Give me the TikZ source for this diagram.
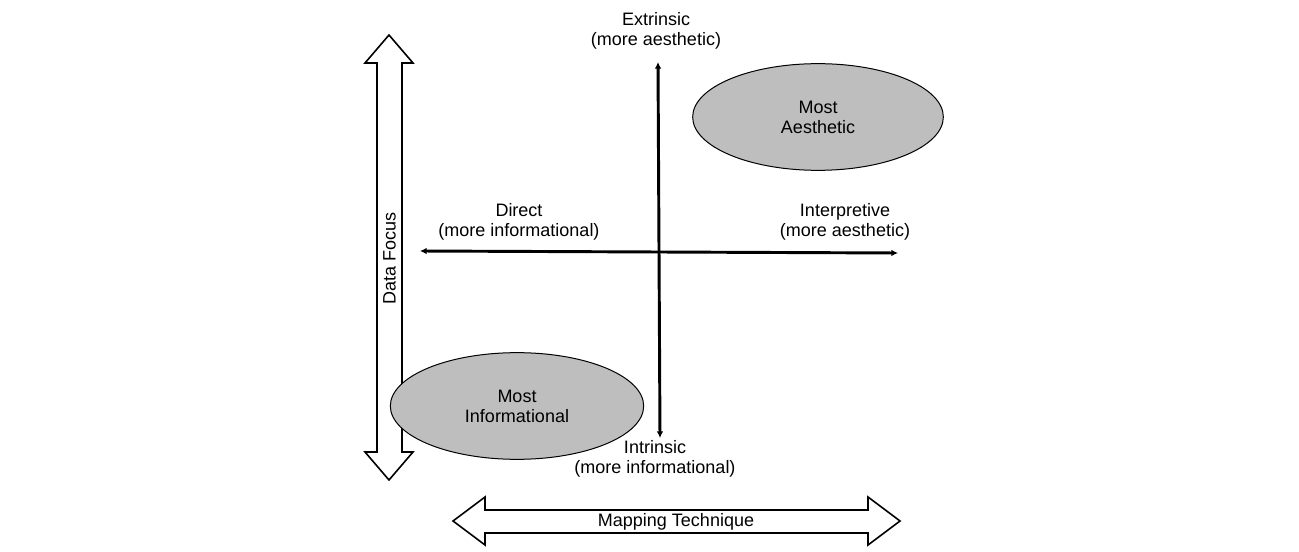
\documentclass[tikz,border=0pt]{standalone}
\usepackage{fontspec}
\setmainfont{Liberation Sans}
\usetikzlibrary{arrows.meta,shapes.geometric}
\begin{document}
\tikzset{every picture/.style={line width=0.75pt},
	lbl/.style={font=\fontsize{13.5}{15}\selectfont, align=center},
	quad/.style={ellipse, draw=black, fill={rgb, 255:red, 190; green, 190; blue, 190}, line width=0.75, minimum width=141, minimum height=60, inner sep=0, font=\fontsize{13.5}{15}\selectfont, align=center},
	axis/.style={line width=2.2, {Latex[length=5,width=5]}-{Latex[length=5,width=5]}}}

\begin{tikzpicture}[x=0.75pt,y=0.75pt,yscale=-1,xscale=1]
	\useasboundingbox (0,0) rectangle (1299,552);

	%Double arrow: Data Focus
	\draw [line width=1.2, fill=white] (389,35) -- (413,63) -- (402,63) -- (402,452) -- (413,452) -- (389,480) -- (365,452) -- (377,452) -- (377,63) -- (365,63) -- cycle ;
	\draw (389.5,258) node [lbl, rotate=90] {Data Focus};
	%Double arrow: Mapping Technique
	\draw [line width=1.2, fill=white] (453,521) -- (485,497) -- (485,510) -- (868,510) -- (868,497) -- (900,521) -- (868,545) -- (868,533) -- (485,533) -- (485,545) -- cycle ;
	\draw (676,522) node [lbl] {Mapping Technique};

	% Axis end points
	\coordinate (top) at (658,62);
	\coordinate (bot) at (660,438);
	\coordinate (lft) at (420,251);
	\coordinate (rgt) at (898,253);
	\draw [axis] (bot) -- (top) ;
	\draw [axis] (lft) -- (rgt) ;

	% Text Node
	\node [lbl] (ext) at (656,31) {Extrinsic\\(more aesthetic)};
	\node [lbl] (int) at (655,459) {Intrinsic\\(more informational)};
	\node [lbl] (dir) at (519,222) {Direct\\(more informational)};
	\node [lbl] (itp) at (845,222) {Interpretive\\(more aesthetic)};

	% Ellipses
	\node [quad, minimum width=188, minimum height=80] (aes) at (818,117) {Most\\Aesthetic};
	\node [quad, minimum width=190, minimum height=80] (inf) at (517,406) {Most\\Informational};

\end{tikzpicture}
\end{document}
